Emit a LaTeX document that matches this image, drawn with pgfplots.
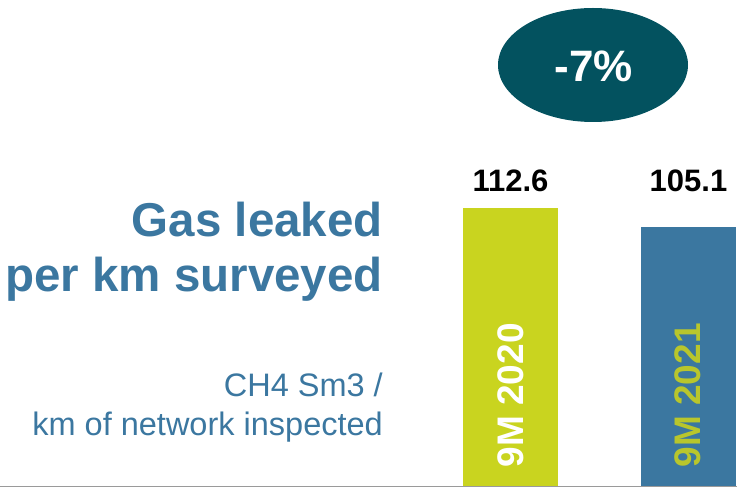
\documentclass[border=0pt]{standalone}
\usepackage{fontspec}
\setmainfont{Liberation Sans}
\usepackage{pgfplots}
\pgfplotsset{compat=1.18}
\definecolor{barGreen}{HTML}{C9D41F}
\definecolor{barBlue}{HTML}{3B77A0}
\definecolor{teal}{HTML}{03525F}
\definecolor{lineGray}{HTML}{9A9A9A}
\definecolor{txtGreen}{HTML}{B8C62C}
\begin{document}
\begin{tikzpicture}
\useasboundingbox (0,0) rectangle (743bp,491bp);
\begin{axis}[
  at={(0,0)}, anchor=south west,
  scale only axis, width=743bp, height=491bp,
  hide axis, clip=false,
  xmin=-2.8680, xmax=1.3062,
  ymin=-1.819, ymax=196.69,
  ybar, bar width=95bp, bar shift=0pt,
]
\addplot[draw=none, fill=barGreen] coordinates {(0,112.6)};
\addplot[draw=none, fill=barBlue] coordinates {(1,105.1)};
\node[anchor=base, font=\fontsize{31bp}{31bp}\selectfont\bfseries] at (axis cs:0,0) [yshift=294.8bp] {112.6};
\node[anchor=base, font=\fontsize{31bp}{31bp}\selectfont\bfseries] at (axis cs:1,0) [yshift=294.8bp] {105.1};
\node[anchor=base west, rotate=90, text=white, inner sep=0pt, font=\fontsize{37bp}{37bp}\selectfont\bfseries] at (axis cs:0.0730,7.68) {9M 2020};
\node[anchor=base west, rotate=90, text=txtGreen, inner sep=0pt, font=\fontsize{37bp}{37bp}\selectfont\bfseries] at (axis cs:1.0700,7.68) {9M 2021};
\end{axis}
\draw[lineGray, line width=1.4bp] (0,4.3bp) -- (737bp,4.3bp);
\fill[teal] (593bp,426bp) ellipse [x radius=95bp, y radius=57bp];
\node[anchor=base, text=white, inner sep=0pt, font=\fontsize{44bp}{44bp}\selectfont\bfseries] at (593.5bp,409bp) {-7\%};
\node[anchor=base east, inner sep=0pt, text=barBlue, font=\fontsize{47.5bp}{47.5bp}\selectfont\bfseries] at (383bp,254bp) {Gas leaked};
\node[anchor=base east, inner sep=0pt, text=barBlue, font=\fontsize{47.5bp}{47.5bp}\selectfont\bfseries] at (383bp,199bp) {per km surveyed};
\node[anchor=base east, inner sep=0pt, text=barBlue, font=\fontsize{32.5bp}{32.5bp}\selectfont] at (383bp,94.3bp) {CH4 Sm3 /};
\node[anchor=base east, inner sep=0pt, text=barBlue, font=\fontsize{32.5bp}{32.5bp}\selectfont] at (383bp,55bp) {km of network inspected};
\end{tikzpicture}
\end{document}
